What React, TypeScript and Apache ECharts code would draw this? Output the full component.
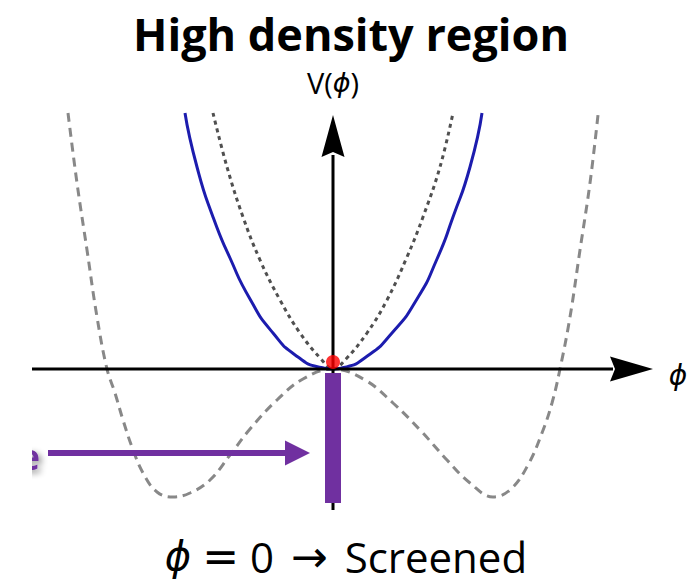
import React, { useEffect, useRef } from "react";
import * as echarts from "echarts";

// Potential curves (phi, V)
const blueCurve: number[][] = [
  [-1.48, 2.56], [-1.36, 2.02], [-1.2, 1.52], [-1.03, 1.11], [-0.83, 0.7], [-0.6, 0.36],
  [-0.35, 0.12], [-0.12, 0.015], [0, 0], [0.11, 0.015], [0.33, 0.12], [0.59, 0.36],
  [0.84, 0.7], [1.04, 1.1], [1.2, 1.52], [1.37, 2.02], [1.49, 2.56],
];
const dottedCurve: number[][] = [
  [-1.2, 2.56], [-1.06, 2.02], [-0.9, 1.52], [-0.73, 1.09], [-0.53, 0.69], [-0.33, 0.36],
  [-0.12, 0.1], [0, 0], [0.13, 0.1], [0.34, 0.36], [0.54, 0.69], [0.74, 1.12],
  [0.9, 1.52], [1.07, 2.02], [1.2, 2.56],
];
const dashedCurve: number[][] = [
  [-2.65, 2.56], [-2.56, 1.86], [-2.46, 1.19], [-2.36, 0.52], [-2.26, 0], [-2.18, -0.24],
  [-2.1, -0.51], [-2.01, -0.78], [-1.9, -1.04], [-1.76, -1.23], [-1.6, -1.28], [-1.43, -1.24],
  [-1.23, -1.11], [-1.03, -0.86], [-0.83, -0.6], [-0.56, -0.31], [-0.3, -0.1], [0, 0],
  [0.32, -0.11], [0.6, -0.34], [0.88, -0.62], [1.14, -0.91], [1.37, -1.14], [1.6, -1.28],
  [1.78, -1.2], [1.95, -0.96], [2.09, -0.64], [2.19, -0.34], [2.27, 0], [2.37, 0.52],
  [2.47, 1.19], [2.57, 1.86], [2.65, 2.54],
];

// Axes, bar, arrow and point (phi, V)
const xAxisLine: number[][] = [[-3.01, 0], [2.8, 0]];
const xArrowTip: number[] = [3.2, 0];
const yAxisLine: number[][] = [[0, -1.41], [0, 2.14]];
const yArrowTip: number[] = [0, 2.54];
const screenedBar: number[][] = [[0, -0.04], [0, -1.34]];
const pushArrow: number[][] = [[-2.85, -0.84], [-0.45, -0.84]];
const pushArrowTip: number[] = [-0.23, -0.84];
const fieldPoint: number[][] = [[0, 0.07]];

const titleText = "High density region";
const yLabel = "V({p|ϕ})";
const xLabel = "ϕ";
const bottomLabel = "{p|ϕ} {m|=} 0 {a|→} Screened";
const cutText = "e";

const PURPLE = "#7030a0";

export default function App() {
  const ref = useRef<HTMLDivElement>(null);
  useEffect(() => {
    document.body.style.margin = "0";
    const chart = echarts.init(ref.current!, null, { renderer: "svg" });
    const lineSeries = (data: number[][], color: string, width: number, type: any, smooth: any, z = 2) => ({
      type: "line",
      data,
      showSymbol: false,
      smooth,
      silent: true,
      z,
      lineStyle: { color, width, type, cap: "butt" },
    });
    chart.setOption({
      animation: false,
      grid: { left: 0, right: 0, top: 0, bottom: 0 },
      xAxis: { type: "value", min: -3.33, max: 3.6, show: false },
      yAxis: { type: "value", min: -2.15, max: 3.69, show: false },
      series: [
        lineSeries(dashedCurve, "#888888", 3, [9, 6], 0.4),
        lineSeries(dottedCurve, "#505050", 3, [4, 4], 0.4),
        lineSeries(blueCurve, "#1c1cae", 3, "solid", 0.6),
        lineSeries(xAxisLine, "#000", 3, "solid", false, 4),
        lineSeries(yAxisLine, "#000", 3, "solid", false, 4),
        lineSeries(screenedBar, PURPLE, 16, "solid", false, 5),
        lineSeries(pushArrow, PURPLE, 6, "solid", false, 5),
        {
          type: "scatter",
          data: fieldPoint,
          symbolSize: 14,
          z: 6,
          silent: true,
          itemStyle: { color: "#ff0000" },
        },
      ],
    });
    const px = (p: number[]) => chart.convertToPixel({ gridIndex: 0 }, p) as number[];
    const xt = px(xArrowTip);
    const yt = px(yArrowTip);
    const at = px(pushArrowTip);
    const phiStyle = { fontFamily: "'DejaVu Sans'", fontStyle: "italic", fill: "#000" };
    chart.setOption({
      graphic: [
        {
          type: "polygon",
          z: 100,
          shape: { points: [[xt[0], xt[1]], [xt[0] - 43, xt[1] - 12.5], [xt[0] - 38, xt[1]], [xt[0] - 43, xt[1] + 12.5]] },
          style: { fill: "#000" },
        },
        {
          type: "polygon",
          z: 100,
          shape: { points: [[yt[0], yt[1]], [yt[0] - 11.5, yt[1] + 42], [yt[0], yt[1] + 37], [yt[0] + 11.5, yt[1] + 42]] },
          style: { fill: "#000" },
        },
        {
          type: "polygon",
          z: 100,
          shape: { points: [[at[0], at[1]], [at[0] - 25, at[1] - 12.5], [at[0] - 25, at[1] + 12.5]] },
          style: { fill: PURPLE },
        },
        {
          type: "text",
          z: 100,
          x: 351,
          y: 33,
          style: {
            text: titleText,
            fontFamily: "'Open Sans'",
            fontWeight: "bold",
            fontSize: 45,
            fill: "#000",
            align: "center",
            verticalAlign: "middle",
          },
        },
        {
          type: "text",
          z: 100,
          x: 333,
          y: 82,
          style: {
            text: yLabel,
            fontFamily: "'Open Sans'",
            fontSize: 29,
            fill: "#000",
            align: "center",
            verticalAlign: "middle",
            rich: { p: { ...phiStyle, fontSize: 27 } },
          },
        },
        {
          type: "text",
          z: 100,
          x: 678,
          y: 375,
          style: {
            text: xLabel,
            ...phiStyle,
            fontSize: 28,
            align: "center",
            verticalAlign: "middle",
          },
        },
        {
          type: "text",
          z: 100,
          x: 346,
          y: 556,
          style: {
            text: bottomLabel,
            fontFamily: "'Open Sans'",
            fontSize: 42,
            lineHeight: 44,
            fill: "#000",
            align: "center",
            verticalAlign: "middle",
            rich: {
              p: { ...phiStyle, fontSize: 40, lineHeight: 44 },
              m: { fontFamily: "'DejaVu Sans'", fontSize: 44, lineHeight: 44, fill: "#000" },
              a: { fontFamily: "'DejaVu Sans'", fontSize: 44, lineHeight: 44, fill: "#000", padding: [0, 6, 0, 6] },
            },
          },
        },
        {
          type: "text",
          z: 100,
          x: 40,
          y: 456,
          style: {
            text: cutText,
            fontFamily: "'Open Sans'",
            fontWeight: "bold",
            fontSize: 36,
            fill: PURPLE,
            align: "right",
            verticalAlign: "middle",
            textShadowColor: "rgba(0,0,0,0.45)",
            textShadowBlur: 6,
            textShadowOffsetX: 3,
            textShadowOffsetY: 3,
          },
        },
        {
          type: "rect",
          z: 101,
          shape: { x: 0, y: 420, width: 32, height: 70 },
          style: { fill: "#fff" },
        },
      ],
    });
    return () => chart.dispose();
  }, []);
  return <div ref={ref} style={{ width: 693, height: 584 }} />;
}
